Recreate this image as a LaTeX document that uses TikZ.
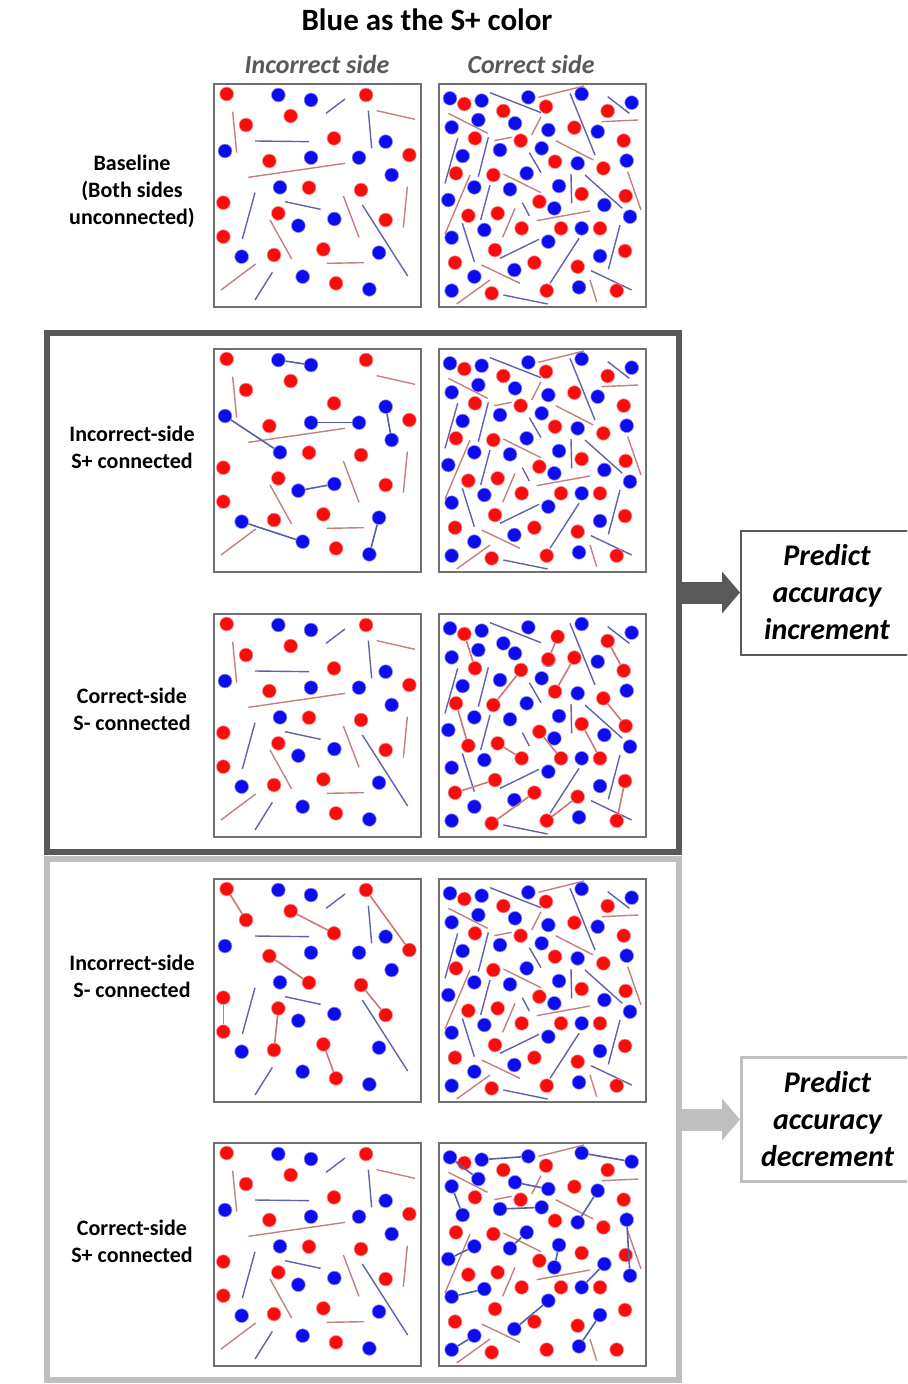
\documentclass[tikz,border=0pt]{standalone}
\usepackage{fontspec}
\setmainfont{Carlito}
\usetikzlibrary{arrows.meta,positioning}

\definecolor{dotred}{RGB}{250,12,12}
\definecolor{dotblue}{RGB}{12,12,238}
\definecolor{stickred}{RGB}{196,128,128}
\definecolor{stickblue}{RGB}{98,98,172}
\definecolor{linkred}{RGB}{204,118,118}
\definecolor{linkblue}{RGB}{84,94,176}
\definecolor{framedark}{RGB}{89,89,89}
\definecolor{framelight}{RGB}{191,191,191}
\definecolor{panelgray}{RGB}{112,112,112}
\definecolor{headgray}{RGB}{89,89,89}

% dot and stick data, in 1/3 px of a panel
\def\leftreds{50/42,108/135,242/108,468/45,372/175,178/243,598/225,297/323,453/330,40/368,205/400,527/420,40/470,192/525,340/508,378/610}
\def\leftblues{205/45,303/60,45/213,303/233,447/233,527/185,545/285,210/322,373/417,265/437,95/530,507/518,278/590,478/628}
\def\leftredsticks{68/95/80/218,500/92/615/118,115/292/405/250,400/348/447/472,592/320/580/443,180/420/245/537,350/550/462/548,33/630/137/552}
\def\leftbluesticks{348/100/405/57,475/92/485/205,135/183/297/185,135/338/97/477,225/365/332/388,457/375/593/588,135/660/187/577}
\def\leftbluepairs{205/45/303/60,45/213/210/322,303/233/447/233,527/185/545/285,265/437/373/417,95/530/278/590,507/518/478/628}
\def\leftredpairs{50/42/108/135,242/108/372/175,468/45/598/225,178/243/297/323,453/330/527/420,40/368/40/470,205/400/192/525,340/508/378/610}
\def\rightreds{88/72,205/93,333/80,518/93,418/143,120/175,257/182,566/182,360/245,505/265,63/280,175/285,440/342,313/365,572/348,100/407,188/400,260/445,378/445,495/445,180/510,570/513,60/548,298/548,428/560,170/640,335/632,545/632}
\def\rightblues{45/55,140/62,280/52,440/42,590/68,130/120,240/130,50/142,340/150,488/155,195/210,320/205,83/228,428/250,575/242,275/280,118/322,225/328,372/318,40/360,508/375,358/385,585/410,148/450,440/445,50/473,340/485,495/528,238/570,118/590,432/622,50/632}
\def\rightredsticks{310/52/447/18,500/125/610/120,40/100/158/160,318/110/290/165,178/182/230/172,362/182/475/240,105/285/30/462,205/282/318/338,578/275/618/390,240/385/203/472,305/422/465/393,140/555/255/610,465/600/485/665,65/672/165/600}
\def\rightbluesticks{165/38/318/98,405/40/480/225,518/50/583/100,68/175/30/310,160/172/130/290,283/218/318/278,408/282/410/370,450/285/562/385,165/315/137/420,262/368/283/408,82/430/118/545,555/435/520/568,195/535/312/478,432/475/345/610,468/572/590/630,205/645/338/672}
\def\rightredpairs{88/72/120/175,368/80/340/148,258/180/175/285,418/143/360/245,518/93/566/182,63/280/100/407,505/265/572/348,313/365/378/445,188/400/260/445,440/342/495/445,60/548/180/510,298/548/170/640,428/560/335/632,570/513/545/632}
\def\rightbluepairs{45/55/130/120,140/62/280/52,440/42/590/68,50/142/83/228,240/130/340/150,195/210/320/205,488/155/428/250,575/242/585/410,225/328/275/280,40/360/118/322,372/318/358/385,508/375/440/445,50/473/148/450,340/485/238/570,495/528/432/622,50/632/118/590}

\newcommand{\sticks}[2]{\foreach \ax/\ay/\bx/\by in #1 {\draw[#2] (\ax,\ay) -- (\bx,\by);}}
\newcommand{\balls}[3]{\foreach \ax/\ay [count=\pn] in #1 {\node[#2] (#3-\pn) at (\ax,\ay) {};}}
\newcommand{\pairs}[4]{\foreach \ax/\ay/\bx/\by [count=\pn] in #1 {
    \node[#2] (#4-\pn-a) at (\ax,\ay) {};
    \node[#2] (#4-\pn-b) at (\bx,\by) {};
    \draw[#3] (#4-\pn-a) -- (#4-\pn-b);}}
\newcommand{\baseleft}[1]{\sticks{\leftredsticks}{redstick}\sticks{\leftbluesticks}{bluestick}%
  \balls{\leftreds}{reddot}{#1r}\balls{\leftblues}{bluedot}{#1b}}
\newcommand{\baseright}[1]{\sticks{\rightredsticks}{redstick}\sticks{\rightbluesticks}{bluestick}%
  \balls{\rightreds}{reddot}{#1r}\balls{\rightblues}{bluedot}{#1b}}

\begin{document}
\begin{tikzpicture}[
    x=0.5pt, y=-0.5pt,
    panelin/.style={x=0.16667pt, y=-0.16667pt},
    panel/.style={draw=panelgray, line width=0.8pt, minimum width=103.5pt, minimum height=111.5pt, inner sep=0pt},
    reddot/.style={circle, fill=dotred, draw=dotred!45, line width=0.3pt, inner sep=0pt, minimum size=6.9pt},
    bluedot/.style={circle, fill=dotblue, draw=dotblue!45, line width=0.3pt, inner sep=0pt, minimum size=6.9pt},
    redstick/.style={draw=stickred, line width=0.7pt},
    bluestick/.style={draw=stickblue, line width=0.7pt},
    redlink/.style={draw=linkred, line width=0.8pt},
    bluelink/.style={draw=linkblue, line width=0.8pt},
    title/.style={font=\fontsize{15.5}{18}\selectfont\bfseries},
    colhead/.style={font=\fontsize{13}{16}\selectfont\bfseries\itshape, text=headgray},
    rowlabel/.style={align=center, font=\fontsize{11}{13.5}\selectfont\bfseries},
    groupframe/.style={line width=3pt, minimum width=316pt, inner sep=0pt},
    predict/.style={draw, align=center, minimum width=86pt, minimum height=62pt, inner sep=0pt,
      font=\fontsize{15}{18.5}\selectfont\bfseries\itshape},
    bigarrow/.style={line width=11pt, -{Triangle[length=9pt,width=20.5pt]}}
  ]
  \useasboundingbox (0,0) rectangle (907,1384);
  \clip (0,0) rectangle (907,1384);

  % titles
  \node[title] (title) at (427,20) {Blue as the S+ color};
  \node[colhead] (headinc) at (317,64) {Incorrect side};
  \node[colhead] (headcor) at (531,64) {Correct side};

  % panels
  \foreach \r/\cy in {1/195.5,2/460.5,3/725.5,4/990.5,5/1254.5} {
    \node[panel] (p\r l) at (317.5,\cy) {};
    \node[panel] (p\r r) at (542.5,\cy) {};
  }

  % row 1: baseline
  \begin{scope}[shift={(210,80)}, panelin] \baseleft{a} \end{scope}
  \begin{scope}[shift={(435,80)}, panelin] \baseright{b} \end{scope}
  % row 2: incorrect side, S+ connected
  \begin{scope}[shift={(210,345)}, panelin]
    \sticks{\leftredsticks}{redstick}
    \balls{\leftreds}{reddot}{cr}
    \pairs{\leftbluepairs}{bluedot}{bluelink}{cp}
  \end{scope}
  \begin{scope}[shift={(435,345)}, panelin] \baseright{d} \end{scope}
  % row 3: correct side, S- connected
  \begin{scope}[shift={(210,610)}, panelin] \baseleft{e} \end{scope}
  \begin{scope}[shift={(435,610)}, panelin]
    \sticks{\rightbluesticks}{bluestick}
    \balls{\rightblues}{bluedot}{fb}
    \node[bluedot] (fx) at (205,100) {};
    \pairs{\rightredpairs}{reddot}{redlink}{fp}
  \end{scope}
  % row 4: incorrect side, S- connected
  \begin{scope}[shift={(210,875)}, panelin]
    \sticks{\leftbluesticks}{bluestick}
    \balls{\leftblues}{bluedot}{gb}
    \pairs{\leftredpairs}{reddot}{redlink}{gp}
  \end{scope}
  \begin{scope}[shift={(435,875)}, panelin] \baseright{h} \end{scope}
  % row 5: correct side, S+ connected
  \begin{scope}[shift={(210,1139)}, panelin] \baseleft{i} \end{scope}
  \begin{scope}[shift={(435,1139)}, panelin]
    \sticks{\rightredsticks}{redstick}
    \balls{\rightreds}{reddot}{jr}
    \pairs{\rightbluepairs}{bluedot}{bluelink}{jp}
  \end{scope}

  % row labels
  \node[rowlabel] (lab1) at (132,191) {Baseline\\(Both sides\\unconnected)};
  \node[rowlabel] (lab2) at (132,447.5) {Incorrect-side\\S+ connected};
  \node[rowlabel] (lab3) at (132,709.5) {Correct-side\\S- connected};
  \node[rowlabel] (lab4) at (132,976.5) {Incorrect-side\\S- connected};
  \node[rowlabel] (lab5) at (132,1241.5) {Correct-side\\S+ connected};

  % groups and predictions
  \node[groupframe, draw=framedark, minimum height=259.5pt] (incframe) at (363,592.5) {};
  \node[groupframe, draw=framelight, minimum height=260.5pt] (decframe) at (363,1119.5) {};
  \node[predict, draw=framedark, line width=1pt, right=29pt of incframe] (incbox) {Predict\\accuracy\\increment};
  \node[predict, draw=framelight, line width=1.5pt, right=29pt of decframe] (decbox) {Predict\\accuracy\\decrement};
  \draw[bigarrow, framedark] (incframe.east) -- (incbox.west);
  \draw[bigarrow, framelight] (decframe.east) -- (decbox.west);
\end{tikzpicture}
\end{document}
